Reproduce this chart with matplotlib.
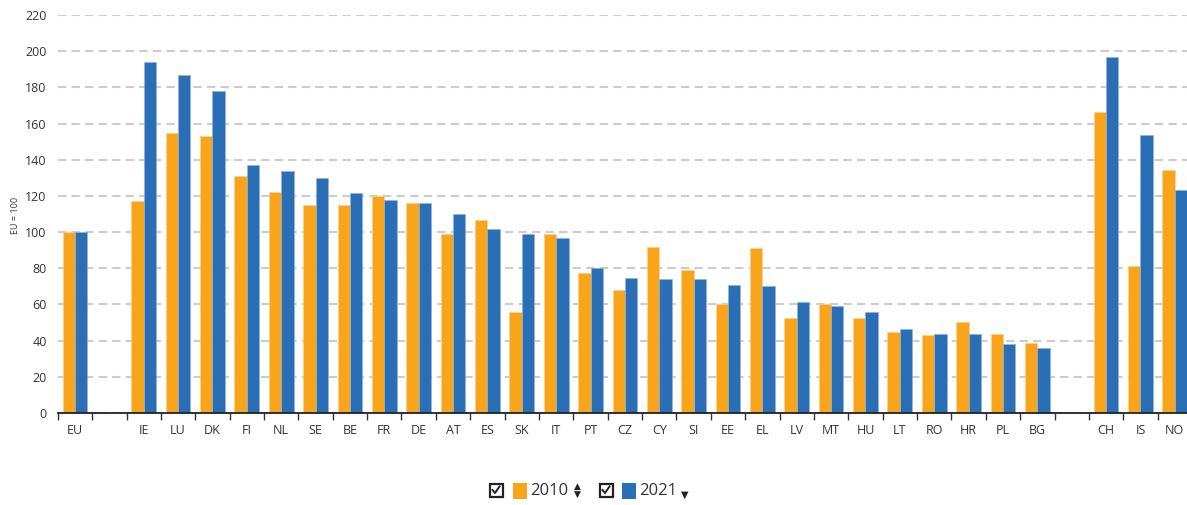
import matplotlib
matplotlib.use("Agg")
import matplotlib.pyplot as plt
from matplotlib.patches import Rectangle
from matplotlib.lines import Line2D
import numpy as np

categories = ["EU", "", "IE", "LU", "DK", "FI", "NL", "SE", "BE", "FR", "DE", "AT", "ES", "SK",
              "IT", "PT", "CZ", "CY", "SI", "EE", "EL", "LV", "MT", "HU", "LT", "RO", "HR",
              "PL", "BG", "", "CH", "IS", "NO"]
v2010 = [100, None, 117, 155, 153, 131, 122, 115, 115, 120, 116, 99, 106.5, 56,
         99, 77.5, 68, 92, 79, 60, 91, 52.5, 60.5, 52.5, 45, 43, 50.5,
         43.5, 38.7, None, 166.5, 81.5, 134.5]
v2021 = [100, None, 194, 187, 178, 137, 134, 130, 121.5, 117.5, 116, 110, 101.5, 99,
         96.7, 80, 74.8, 74, 74, 70.5, 70, 61.5, 59, 56, 46.3, 43.5, 43.5,
         38, 36, None, 197, 153.5, 123.5]
series_labels = ["2010", "2021"]
yticks = list(range(0, 221, 20))

c2010 = "#F9A51C"
c2021 = "#2A6EB5"

W, H = 1187, 505
fig = plt.figure(figsize=(W / 100, H / 100), dpi=100)
ax_left, ax_right = 57.8, 1192
ax_bottom, ax_top = 413, 15
ax = fig.add_axes([ax_left / W, 1 - ax_bottom / H, (ax_right - ax_left) / W, (ax_bottom - ax_top) / H])

x = np.arange(len(categories))
bw = 0.36
a = np.array([np.nan if v is None else v for v in v2010], dtype=float)
b = np.array([np.nan if v is None else v for v in v2021], dtype=float)
ax.bar(x - bw / 2, a, width=bw, color=c2010, edgecolor="#FCD08A", linewidth=0.5, zorder=3)
ax.bar(x + bw / 2, b, width=bw, color=c2021, edgecolor="#8FB4DE", linewidth=0.5, zorder=3)

ax.set_xlim(-0.5, len(categories) - 0.5)
ax.set_ylim(0, 220)
ax.set_yticks(yticks)
ax.set_yticklabels([str(t) for t in yticks], fontsize=9, color="#333333", family="Open Sans")
ax.yaxis.grid(True, color="#CCCCCC", linestyle=(0, (4, 2.5)), linewidth=1.5)
ax.set_axisbelow(True)
ax.tick_params(axis="y", length=0, pad=8)

# x ticks at slot boundaries, labels at centres
ax.set_xticks(np.arange(-0.5, len(categories) - 0.4, 1.0))
ax.set_xticklabels([])
ax.set_xticks(x, minor=True)
ax.set_xticklabels(categories, minor=True, fontsize=9, color="#333333", family="Open Sans")
ax.tick_params(axis="x", which="major", length=5, width=1, color="#333333", direction="out")
ax.tick_params(axis="x", which="minor", length=0, pad=8)

for s in ["top", "right", "left"]:
    ax.spines[s].set_visible(False)
ax.spines["bottom"].set_color("#222222")
ax.spines["bottom"].set_linewidth(1.3)
ax.spines["bottom"].set_zorder(4)

fig.text(15 / W, 1 - 215 / H, "EU = 100", rotation=90, fontsize=6.5, color="#333333",
         ha="center", va="center", family="Open Sans")


def fx(px):
    return px / W


def fy(py):
    return 1 - py / H


def checkbox(cx, cy):
    s = 13
    fig.patches.append(Rectangle((fx(cx - s / 2), fy(cy + s / 2)), s / W, s / H, transform=fig.transFigure,
                                 facecolor="white", edgecolor="#222222", linewidth=1.6))
    fig.lines.append(Line2D([fx(cx - 3.5), fx(cx - 1), fx(cx + 3.5)], [fy(cy), fy(cy + 3), fy(cy - 3.5)],
                            transform=fig.transFigure, color="#222222", linewidth=1.4))


# legend
ly = fy(491)
checkbox(496, 490)
fig.patches.append(Rectangle((fx(513), fy(499)), 14 / W, 16 / H, transform=fig.transFigure,
                             facecolor=c2010, edgecolor="none"))
fig.text(fx(530), ly, series_labels[0], fontsize=12, ha="left", va="center", color="#333333", family="Open Sans")
fig.text(fx(577), fy(486.5), "\u25B2", fontsize=6.5, ha="center", va="center", color="#222222", family="DejaVu Sans")
fig.text(fx(577), fy(494.5), "\u25BC", fontsize=6.5, ha="center", va="center", color="#222222", family="DejaVu Sans")
checkbox(606, 490)
fig.patches.append(Rectangle((fx(622), fy(499)), 14 / W, 16 / H, transform=fig.transFigure,
                             facecolor=c2021, edgecolor="none"))
fig.text(fx(639), ly, series_labels[1], fontsize=12, ha="left", va="center", color="#333333", family="Open Sans")
fig.text(fx(685), fy(495), "\u25BC", fontsize=7, ha="center", va="center", color="#222222", family="DejaVu Sans")

fig.savefig("out.png", dpi=100)
